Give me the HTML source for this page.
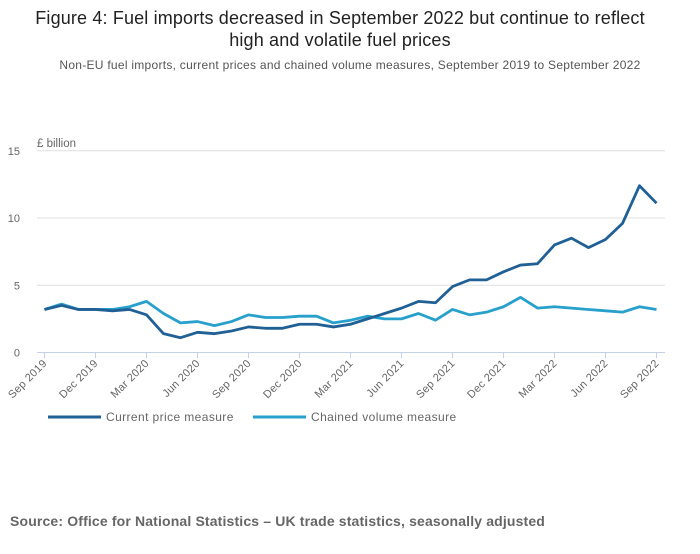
<!DOCTYPE html>
<html><head><meta charset="utf-8"><style>
body{margin:0;background:#fff;width:700px;height:549px;overflow:hidden;font-family:"Liberation Sans",sans-serif}
</style></head><body>
<svg width="700" height="549" xmlns="http://www.w3.org/2000/svg" font-family="Liberation Sans, sans-serif">
<text x="340" y="24" text-anchor="middle" font-size="18" fill="#222" letter-spacing="0.15">Figure 4: Fuel imports decreased in September 2022 but continue to reflect</text>
<text x="340" y="46" text-anchor="middle" font-size="18" fill="#222" letter-spacing="0.15">high and volatile fuel prices</text>
<text x="350" y="69" text-anchor="middle" font-size="12" fill="#555" letter-spacing="0.27">Non-EU fuel imports, current prices and chained volume measures, September 2019 to September 2022</text>
<text x="37" y="147" font-size="11.5" fill="#666">£ billion</text>
<g id="grid"></g><g id="xaxis"></g><g id="series"></g>
<g>
<line x1="48" y1="417" x2="101" y2="417" stroke="#206095" stroke-width="3"/>
<text x="106" y="421" font-size="12" fill="#666" letter-spacing="0.4">Current price measure</text>
<line x1="253" y1="417" x2="306" y2="417" stroke="#27a0cc" stroke-width="3"/>
<text x="311" y="421" font-size="12" fill="#666" letter-spacing="0.4">Chained volume measure</text>
</g>
<text x="10" y="526" font-size="14" font-weight="bold" fill="#666" letter-spacing="0.15">Source: Office for National Statistics – UK trade statistics, seasonally adjusted</text>
</svg>
<script>
const yTicks=[0,5,10,15];
const xTickLabels=["Sep 2019","Dec 2019","Mar 2020","Jun 2020","Sep 2020","Dec 2020","Mar 2021","Jun 2021","Sep 2021","Dec 2021","Mar 2022","Jun 2022","Sep 2022"];
const currentPrice=[3.2,3.5,3.2,3.2,3.1,3.2,2.8,1.4,1.1,1.5,1.4,1.6,1.9,1.8,1.8,2.1,2.1,1.9,2.1,2.5,2.9,3.3,3.8,3.7,4.9,5.4,5.4,6.0,6.5,6.6,8.0,8.5,7.8,8.4,9.6,12.4,11.1];
const chainedVolume=[3.2,3.6,3.2,3.2,3.2,3.4,3.8,2.9,2.2,2.3,2.0,2.3,2.8,2.6,2.6,2.7,2.7,2.2,2.4,2.7,2.5,2.5,2.9,2.4,3.2,2.8,3.0,3.4,4.1,3.3,3.4,3.3,3.2,3.1,3.0,3.4,3.2];
const NS="http://www.w3.org/2000/svg";
const x=i=>44.5+i*17, y=v=>352.5-v*13.45;
function mk(t,a,p){const e=document.createElementNS(NS,t);for(const k in a)e.setAttribute(k,a[k]);p.appendChild(e);return e;}
const g=document.getElementById('grid');
yTicks.forEach(v=>{
 if(v>0){const l=mk('line',{x1:37,x2:665,y1:y(v),y2:y(v),stroke:'#e0e0e0'},g);
 
 }
 const t=mk('text',{x:20,y:y(v)+4,'text-anchor':'end','font-size':11,fill:'#666'},g);
 
 
 t.textContent=v;
});
const xa=document.getElementById('xaxis');
const ax=mk('line',{x1:37,x2:665,y1:352.5,y2:352.5,stroke:'#c5d1e6'},xa);


xTickLabels.forEach((s,k)=>{
 const px=x(k*3);
 const tk=mk('line',{x1:px,x2:px,y1:352.5,y2:358,stroke:'#c5d1e6'},xa);
 
 
 const t=mk('text',{x:px+3,y:364,'text-anchor':'end','font-size':11,fill:'#666','letter-spacing':0.3,transform:`rotate(-45 ${px+3} 364)`},xa);
 
 
 t.textContent=s;
});
const sg=document.getElementById('series');
[[chainedVolume,'#27a0cc','chained-volume-line'],[currentPrice,'#206095','current-price-line']].forEach(([d,c,n])=>{
 const p=mk('polyline',{points:d.map((v,i)=>x(i)+','+y(v)).join(' '),fill:'none',stroke:c,'stroke-width':2.8,'stroke-linejoin':'round'},sg);
 
 
});
</script>
</body></html>
